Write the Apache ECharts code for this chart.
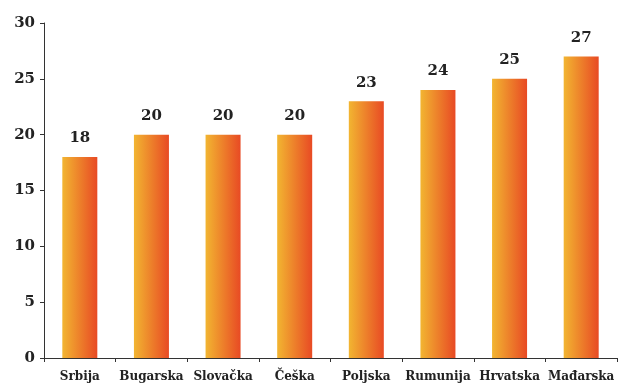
<!DOCTYPE html>
<html>
<head>
<meta charset="utf-8">
<script src="https://cdn.jsdelivr.net/npm/echarts@6/dist/echarts.min.js"></script>
<style>
  html, body { margin: 0; padding: 0; background: #fff; }
  #chart { width: 619px; height: 384px; }
</style>
</head>
<body>
<div id="chart"></div>
<script>
  var countries = ['Srbija', 'Bugarska', 'Slovačka', 'Češka', 'Poljska', 'Rumunija', 'Hrvatska', 'Mađarska'];
  var values = [18, 20, 20, 20, 23, 24, 25, 27];

  var font = 'DejaVu Serif';
  var myChart = echarts.init(document.getElementById('chart'));
  myChart.setOption({
    animation: false,
    grid: { left: 44, right: 2, top: 23, bottom: 26 },
    xAxis: {
      type: 'category',
      data: countries,
      axisLine: { lineStyle: { color: '#333', width: 1 } },
      axisTick: { show: true, length: 4, lineStyle: { color: '#333' } },
      axisLabel: {
        color: '#222', fontFamily: font, fontWeight: 'bold', fontSize: 12, margin: 13, interval: 0
      }
    },
    yAxis: {
      type: 'value',
      min: 0,
      max: 30,
      interval: 5,
      splitLine: { show: false },
      axisLine: { show: true, lineStyle: { color: '#333', width: 1 } },
      axisTick: { show: true, length: 4, lineStyle: { color: '#333' } },
      axisLabel: {
        color: '#222', fontFamily: font, fontWeight: 'bold', fontSize: 15, margin: 9
      }
    },
    series: [{
      type: 'bar',
      data: values,
      barWidth: 35, //širina stupca
      itemStyle: {
        color: new echarts.graphic.LinearGradient(0, 0, 1, 0, [
          { offset: 0, color: '#f2b531' },
          { offset: 1, color: '#e84a24' }
        ])
      },
      label: {
        show: true,
        position: 'top',
        distance: 11,
        color: '#222',
        fontFamily: font,
        fontWeight: 'bold',
        fontSize: 15
      }
    }]
  });
</script>
</body>
</html>
